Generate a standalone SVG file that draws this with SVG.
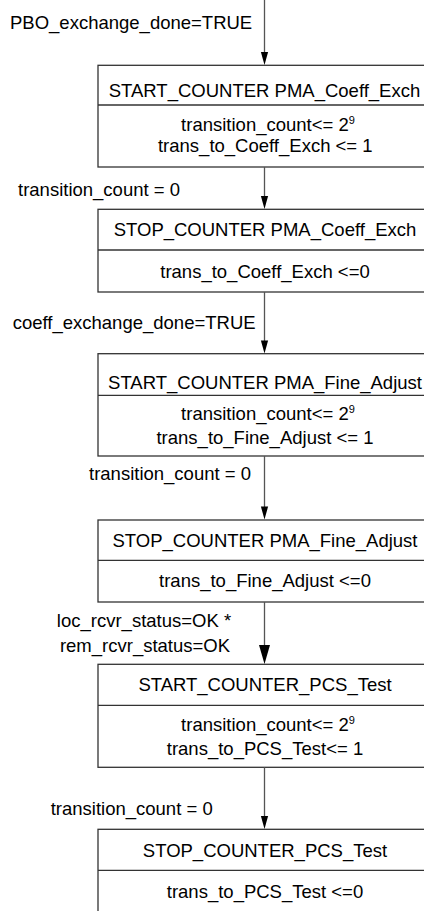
<svg xmlns="http://www.w3.org/2000/svg" xmlns:xlink="http://www.w3.org/1999/xlink" width="424" height="911" viewBox="0 0 424 911">
  <style>
    text { font-family: "Liberation Sans", Arial, sans-serif; font-size: 18.5px; fill: #000; }
    .c { text-anchor: middle; }
    .sup { font-size: 11px; }
    .box { fill: #fff; stroke: #333; stroke-width: 1.3; }
    .div { stroke: #333; stroke-width: 1.3; }
    .wire { stroke: #555; stroke-width: 1.3; fill: none; }
    .head { fill: #000; }
  </style>
  <defs>
    <!-- arrowheads, tip at the origin, pointing down -->
    <path id="head" class="head" d="M-3.6,-13 L3.6,-13 L0,0 Z"/>
    <path id="headBig" class="head" d="M-5.5,-19 L5.5,-19 L0,0 Z"/>
  </defs>

  <!-- states -->
  <g id="start-coeff">
    <rect class="box" x="98" y="65.3" width="334" height="101.7"/>
    <line class="div" x1="98" y1="105" x2="432" y2="105"/>
    <text class="c" x="264.5" y="96.7">START_COUNTER PMA_Coeff_Exch</text>
    <text class="c" x="268" y="131">transition_count&lt;= 2<tspan class="sup" dy="-7">9</tspan></text>
    <text class="c" x="265.3" y="152.3">trans_to_Coeff_Exch &lt;= 1</text>
  </g>

  <g id="stop-coeff">
    <rect class="box" x="98" y="209.3" width="334" height="82.7"/>
    <line class="div" x1="98" y1="250" x2="432" y2="250"/>
    <text class="c" x="265" y="236">STOP_COUNTER PMA_Coeff_Exch</text>
    <text class="c" x="265" y="278.3">trans_to_Coeff_Exch &lt;=0</text>
  </g>

  <g id="start-fine">
    <rect class="box" x="98" y="353.7" width="334" height="102.3"/>
    <line class="div" x1="98" y1="395.3" x2="432" y2="395.3"/>
    <text class="c" x="265" y="389.3">START_COUNTER PMA_Fine_Adjust</text>
    <text class="c" x="268" y="420">transition_count&lt;= 2<tspan class="sup" dy="-7">9</tspan></text>
    <text class="c" x="265" y="444">trans_to_Fine_Adjust &lt;= 1</text>
  </g>

  <g id="stop-fine">
    <rect class="box" x="98" y="520" width="334" height="82"/>
    <line class="div" x1="98" y1="560.3" x2="432" y2="560.3"/>
    <text class="c" x="265" y="546.7">STOP_COUNTER PMA_Fine_Adjust</text>
    <text class="c" x="265" y="587.3">trans_to_Fine_Adjust &lt;=0</text>
  </g>

  <g id="start-pcs">
    <rect class="box" x="98" y="664.3" width="334" height="103"/>
    <line class="div" x1="98" y1="705.3" x2="432" y2="705.3"/>
    <text class="c" x="265" y="690.7">START_COUNTER_PCS_Test</text>
    <text class="c" x="268" y="730.7">transition_count&lt;= 2<tspan class="sup" dy="-7">9</tspan></text>
    <text class="c" x="265" y="755">trans_to_PCS_Test&lt;= 1</text>
  </g>

  <g id="stop-pcs">
    <rect class="box" x="98" y="829.3" width="334" height="100"/>
    <line class="div" x1="98" y1="870.3" x2="432" y2="870.3"/>
    <text class="c" x="265" y="856.7">STOP_COUNTER_PCS_Test</text>
    <text class="c" x="265" y="898.3">trans_to_PCS_Test &lt;=0</text>
  </g>

  <!-- transitions with their conditions -->
  <g id="connectors">
    <line class="wire" x1="264.5" y1="0" x2="264.5" y2="58"/>
    <use href="#head" xlink:href="#head" x="264.5" y="65"/>
    <line class="wire" x1="264.5" y1="167" x2="264.5" y2="202"/>
    <use href="#head" xlink:href="#head" x="264.5" y="209"/>
    <line class="wire" x1="264.5" y1="292" x2="264.5" y2="346"/>
    <use href="#head" xlink:href="#head" x="264.5" y="353.5"/>
    <line class="wire" x1="264.5" y1="456" x2="264.5" y2="512"/>
    <use href="#head" xlink:href="#head" x="264.5" y="519.5"/>
    <line class="wire" x1="264.5" y1="602" x2="264.5" y2="652"/>
    <use href="#headBig" xlink:href="#headBig" x="264.5" y="664"/>
    <line class="wire" x1="264.5" y1="767.3" x2="264.5" y2="822"/>
    <use href="#head" xlink:href="#head" x="264.5" y="829"/>

    <text x="10" y="29.3">PBO_exchange_done=TRUE</text>
    <text x="18" y="196">transition_count = 0</text>
    <text x="12.7" y="329">coeff_exchange_done=TRUE</text>
    <text x="89" y="480">transition_count = 0</text>
    <text class="c" x="144" y="626.7">loc_rcvr_status=OK *</text>
    <text class="c" x="145" y="651.7">rem_rcvr_status=OK</text>
    <text x="50.7" y="815">transition_count = 0</text>
  </g>
</svg>
